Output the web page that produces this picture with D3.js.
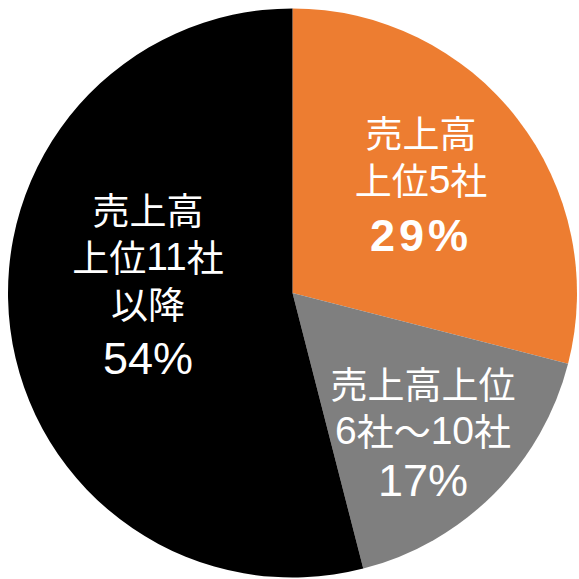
<!DOCTYPE html>
<html>
<head>
<meta charset="utf-8">
<script src="https://cdn.jsdelivr.net/npm/d3@7"></script>
<style>
  html, body { margin: 0; padding: 0; background: #fff; }
  svg { display: block; }
</style>
</head>
<body>
<svg id="chart" width="579" height="579"></svg>
<script>
// Share of sales by company rank group
const categories = ["売上高上位5社", "売上高上位6社～10社", "売上高上位11社以降"];
const shares = [29, 17, 54];
const colors = ["#ED7D31", "#7F7F7F", "#000000"];
// Label lines drawn inside each slice
const labelLines = [
  ["売上高", "上位5社"],
  ["売上高上位", "6社～10社"],
  ["売上高", "上位11社", "以降"]
];
const valueLabels = shares.map(v => v + "%");

const cx = 292.5, cy = 293, R = 284.5;

const svg = d3.select("#chart");
const g = svg.append("g").attr("transform", `translate(${cx},${cy})`);

const pie = d3.pie().sort(null).value(d => d);
const arcs = pie(shares);
const arc = d3.arc().innerRadius(0).outerRadius(R);

g.selectAll("path.slice")
  .data(arcs)
  .join("path")
  .attr("class", "slice")
  .attr("d", arc)
  .attr("fill", (d, i) => colors[i]);

// Label layout: offset of the label block from the pie centre, and style of the value line
const labelLayout = [
  { dx: 128.5, top: -161, valueGap: 56, valueWeight: "bold", spacing: 4 },
  { dx: 130.5, top: 90, valueGap: 50, valueWeight: "normal", spacing: 0 },
  { dx: -144.5, top: -84, valueGap: 55, valueWeight: "normal", spacing: 0 }
];
const lineH = 47;
const latin = "'Liberation Sans', Arial, sans-serif";
const cjk = "'Noto Sans CJK JP', sans-serif";

// split a line into runs of digits and other characters
function runs(s) {
  return s.match(/[0-9]+|[^0-9]+/g);
}

arcs.forEach((a, i) => {
  const L = labelLayout[i];
  const t = g.append("g").attr("transform", `translate(${L.dx},${L.top})`);
  labelLines[i].forEach((s, k) => {
    const txt = t.append("text")
      .attr("x", 0)
      .attr("y", k * lineH)
      .attr("text-anchor", "middle")
      .attr("dominant-baseline", "central")
      .attr("font-family", cjk)
      .attr("font-size", 37)
      .attr("fill", "#fff");
    runs(s).forEach(r => {
      const isNum = /^[0-9]+$/.test(r);
      txt.append("tspan")
        .attr("font-family", isNum ? latin : cjk)
        .attr("font-size", isNum ? 39 : 37)
        .text(r);
    });
  });
  t.append("text")
    .attr("x", 0)
    .attr("y", (labelLines[i].length - 1) * lineH + L.valueGap)
    .attr("text-anchor", "middle")
    .attr("dominant-baseline", "central")
    .attr("font-family", latin)
    .attr("font-size", 45)
    .attr("font-weight", L.valueWeight)
    .attr("letter-spacing", L.spacing)
    .attr("fill", "#fff")
    .text(valueLabels[i]);
});
</script>
</body>
</html>
